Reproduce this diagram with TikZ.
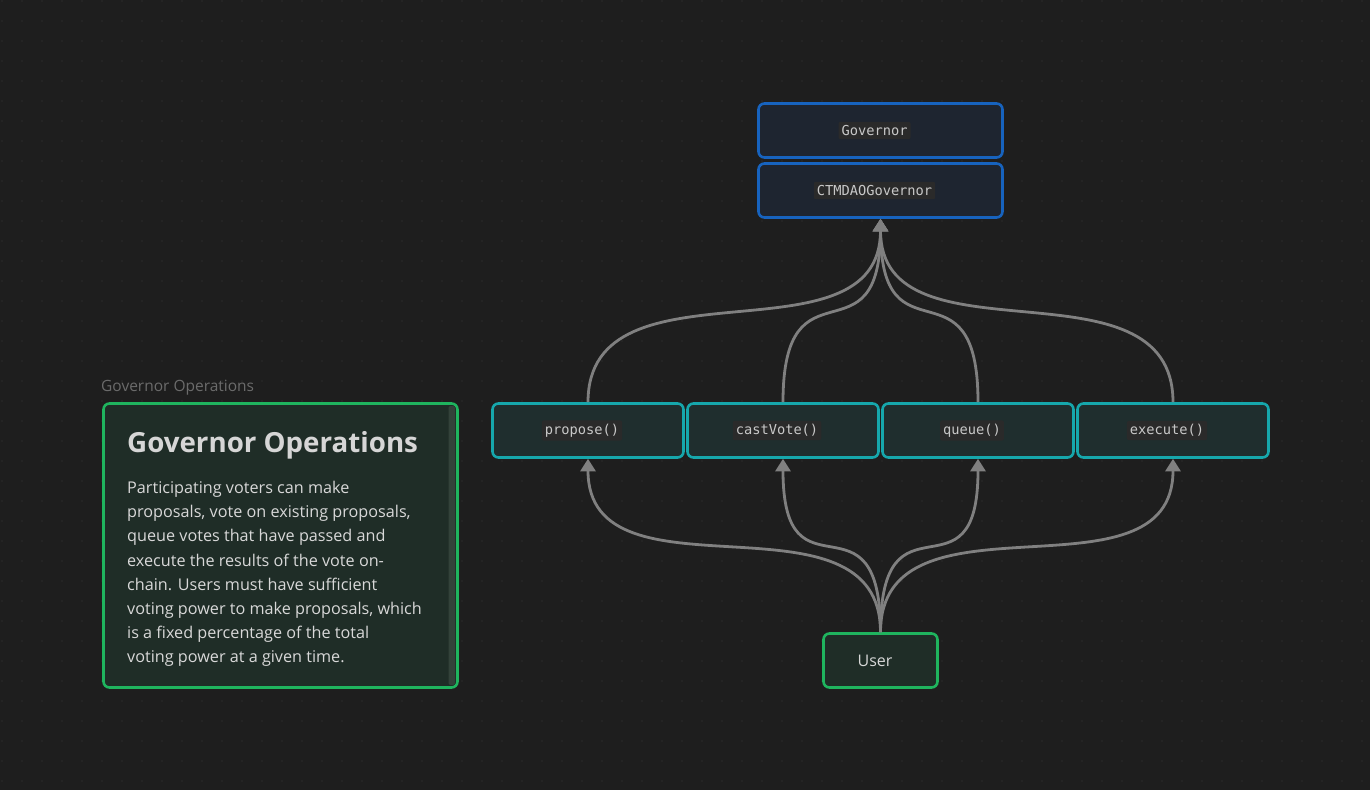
\documentclass[tikz,border=0pt]{standalone}
\usepackage{fontspec}
\setmainfont{Open Sans}
\newfontfamily\codefont{DejaVu Sans Mono}
\usetikzlibrary{arrows.meta}
\definecolor{bgc}{HTML}{1E1E1E}
\definecolor{dotc}{HTML}{2C2C2C}
\definecolor{bluec}{HTML}{1763BE}
\definecolor{bluefill}{HTML}{1E2530}
\definecolor{tealc}{HTML}{16A7AC}
\definecolor{tealfill}{HTML}{1F2E2E}
\definecolor{greenc}{HTML}{1FB45E}
\definecolor{greenfill}{HTML}{1F2D27}
\definecolor{edgec}{HTML}{808080}
\definecolor{chipc}{HTML}{2A2A2A}
\definecolor{codetext}{HTML}{C8C8C8}
\definecolor{labelc}{HTML}{6B6B6B}
\definecolor{bodyc}{HTML}{D8D8D8}
\definecolor{scrollc}{HTML}{33423A}
\tikzset{
  boxbase/.style={draw, line width=2.6pt, rounded corners=6pt, inner sep=0pt, minimum height=54pt},
  bluebox/.style={boxbase, bluec, fill=bluefill, minimum width=244pt},
  tealbox/.style={boxbase, tealc, fill=tealfill, minimum width=191pt},
  greenbox/.style={boxbase, greenc, fill=greenfill},
  chip/.style={fill=chipc, text=codetext, rounded corners=2pt, inner xsep=3pt, inner ysep=3.5pt, font=\codefont\fontsize{13.7}{16}\selectfont},
  edge/.style={draw=edgec, line width=2.8pt, -{Triangle[length=12.5pt,width=15pt]}},
}
\begin{document}
\begin{tikzpicture}[x=1pt,y=-1pt]
\fill[bgc] (0,0) rectangle (1370,790);
\useasboundingbox (0,0) rectangle (1370,790);
\foreach \i in {0,...,68} {\foreach \j in {0,...,39} {\fill[dotc] (2+20*\i,1+20*\j) circle (0.9);}}

% top boxes
\node[bluebox] (gov) at (880.5,130.5) {};
\node[chip] (govt) at ([xshift=-6pt]gov.center) {Governor};
\node[bluebox] (ctm) at (880.5,190.5) {};
\node[chip] (ctmt) at ([xshift=-6pt]ctm.center) {CTMDAOGovernor};

% function boxes
\node[tealbox] (propose) at (588,430.5) {};
\node[chip] (proposet) at ([xshift=-6pt]propose.center) {propose()};
\node[tealbox] (cast) at (783,430.5) {};
\node[chip] (castt) at ([xshift=-6pt]cast.center) {castVote()};
\node[tealbox] (queue) at (978,430.5) {};
\node[chip] (queuet) at ([xshift=-6pt]queue.center) {queue()};
\node[tealbox] (exec) at (1173,430.5) {};
\node[chip] (exect) at ([xshift=-6pt]exec.center) {execute()};

% user
\node[greenbox, minimum width=114pt] (user) at (880.5,660.5) {};
\node[text=bodyc, font=\fontsize{16}{20}\selectfont] (usert) at ([xshift=-5.5pt]user.center) {User};

% text card
\node[anchor=base west, inner sep=0pt, text=labelc, font=\fontsize{15.5}{20}\selectfont] (glabel) at (101,391) {Governor Operations};
\node[greenbox, minimum width=354pt, minimum height=284pt] (card) at (280.5,545.5) {};
\fill[scrollc, rounded corners=2pt] (448.5,406) rectangle (455,685);
\node[anchor=base west, inner sep=0pt, text=bodyc!105, font=\bfseries\fontsize{27.7}{32}\selectfont] (title) at (127,452) {Governor Operations};
\node[anchor=north west, inner sep=0pt, align=left, text=bodyc, font=\fontsize{16.2}{24.2}\selectfont] (body) at (127,481) {Participating voters can make\\proposals, vote on existing proposals,\\queue votes that have passed and\\execute the results of the vote on-\\chain. Users must have sufficient\\voting power to make proposals, which\\is a fixed percentage of the total\\voting power at a given time.};

% edges up to governor
\draw[edge] (propose.north) .. controls +(0,-150) and +(0,150) .. (ctm.south);
\draw[edge] (cast.north) .. controls +(0,-150) and +(0,150) .. (ctm.south);
\draw[edge] (queue.north) .. controls +(0,-150) and +(0,150) .. (ctm.south);
\draw[edge] (exec.north) .. controls +(0,-150) and +(0,150) .. (ctm.south);

% edges from user
\draw[edge] (user.north) .. controls +(0,-150) and +(0,150) .. (propose.south);
\draw[edge] (user.north) .. controls +(0,-150) and +(0,150) .. (cast.south);
\draw[edge] (user.north) .. controls +(0,-150) and +(0,150) .. (queue.south);
\draw[edge] (user.north) .. controls +(0,-150) and +(0,150) .. (exec.south);
\end{tikzpicture}
\end{document}
